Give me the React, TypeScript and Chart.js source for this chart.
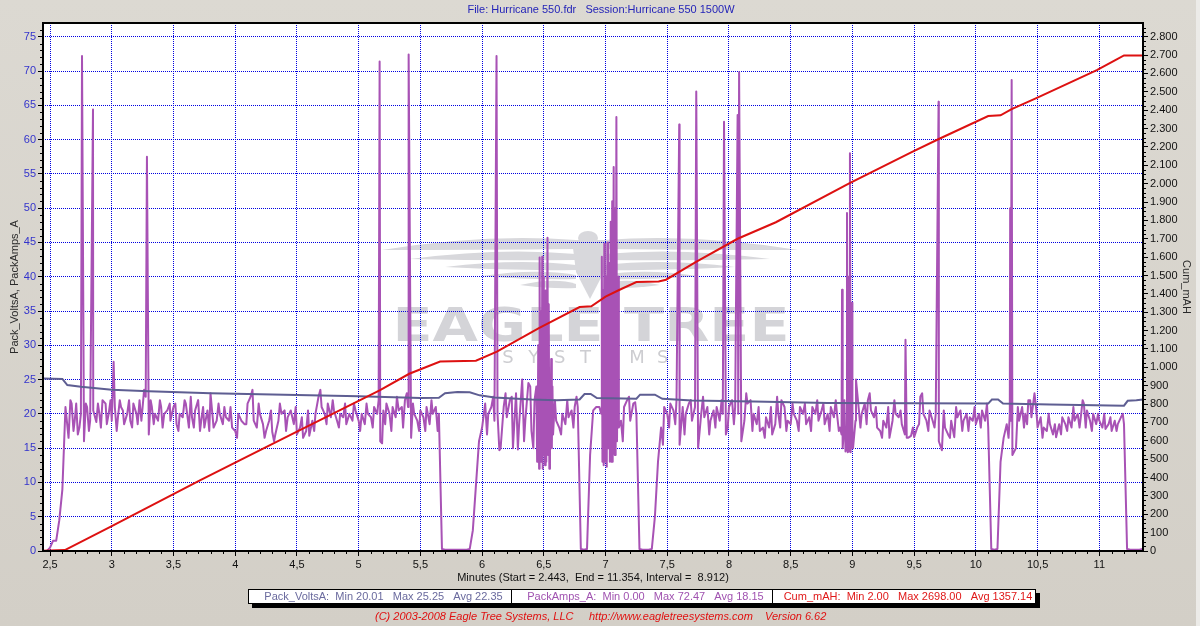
import { useEffect, useRef } from "react";
import { Chart, registerables } from "chart.js";

Chart.register(...registerables);

// ---------------- texts ----------------
const titleText = "File: Hurricane 550.fdr   Session:Hurricane 550 1500W";
const leftAxisTitle = "Pack_VoltsA, PackAmps_A";
const rightAxisTitle = "Cum_mAH";
const xAxisTitle = "Minutes (Start = 2.443,  End = 11.354, Interval =  8.912)";
const legendTexts = [
  "Pack_VoltsA:  Min 20.01   Max 25.25   Avg 22.35",
  "PackAmps_A:  Min 0.00   Max 72.47   Avg 18.15",
  "Cum_mAH:  Min 2.00   Max 2698.00   Avg 1357.14",
];
const footerTexts = [
  "(C) 2003-2008 Eagle Tree Systems, LLC",
  "http://www.eagletreesystems.com",
  "Version 6.62",
];

// ---------------- axis ranges ----------------
const xMin = 2.443;
const xMax = 11.354;
const leftMax = 77;
const rightMax = (77 * 2800) / 75;

// ---------------- data ----------------
// PackAmps_A sampled every 0.025 min starting at 2.45 min
const ampsStart = 2.45;
const ampsStep = 0.025;
const ampsBase = [
  0, 0, 0.5, 1.5, 1.5, 4.5, 9, 21, 16.5, 21.5, 19, 17, 20, 16, 21, 19, 20.5, 18.8, 20, 22,
  21.5, 20, 19, 21, 19.5, 21, 18.5, 20, 19, 21.5, 20, 22, 21, 22.5, 17, 21, 20, 19, 21, 20,
  20.5, 19, 21, 18.5, 20, 19.5, 21.5, 18, 19.5, 20.5, 22, 19, 18, 20.5, 23, 18, 19, 20, 18.5, 19.5,
  19, 18, 17.5, 20, 19, 18.5, 21.5, 22.5, 19, 18, 20, 18.5, 17.5, 19, 17.4, 17, 19, 20, 20.5, 19.5,
  20.5, 18.5, 17, 18, 16.5, 17.5, 16.8, 19, 20, 22.5, 21, 20, 21.5, 19.5, 20.5, 19, 20, 19.5, 18.5, 20,
  19, 20.5, 19, 20, 18.5, 20, 19.5, 21, 20, 16, 20.5, 21.5, 20, 21, 19.5, 20.5, 21, 22, 21, 16.5,
  20, 19, 20.5, 19.5, 21, 18.5, 20, 21, 20, 0.3, 0.2, 0.2, 0.2, 0.2, 0.2, 0.2, 0.2, 0.2, 0.3, 3,
  9.5, 16, 18, 21.5, 20, 21, 19, 20, 15, 21, 19.5, 22, 15, 23, 18.5, 25, 19, 24.5, 17.5, 22,
  14, 13, 14, 13, 14, 17, 19, 18, 20, 18.5, 19.5, 20.5, 21, 21, 0.3, 0.2, 0.3, 14, 20.5, 21,
  21, 13, 14, 15, 13, 14, 16, 19, 21, 22, 19, 21.5, 20, 0.3, 0.2, 0.2, 0.2, 0.3, 5, 13,
  18, 21, 20, 21.5, 20.5, 22, 15.5, 21, 20, 21.5, 19, 21, 15, 20, 19.5, 21, 19, 20.5, 21, 19,
  20, 17, 21, 22, 21, 20, 16, 19, 21.5, 22, 20, 18.5, 17.5, 18, 19.5, 18, 17, 18.5, 20, 22,
  21, 19, 18.5, 20, 19, 21, 20, 18.5, 19.5, 21, 20, 19, 20.5, 18.5, 20, 21, 19.5, 20, 18, 16,
  15, 14.5, 15, 19, 21, 20, 21.5, 22, 20.5, 19.5, 18, 17.5, 19, 18, 16.5, 19, 20, 19.5, 18.5, 17,
  16.5, 16.8, 16.6, 18, 22.5, 20, 19, 20.5, 19, 20, 16, 14.7, 18, 17, 19, 16.6, 19.5, 20.5, 19, 20,
  19.5, 19, 18.5, 20, 20.5, 19, 18, 0.3, 0.2, 0.3, 13, 16.5, 18.5, 20, 14, 15, 19, 21, 20, 22,
  19.5, 23, 18, 19.5, 18, 17.5, 18.5, 17, 16.6, 18.5, 19.5, 18.5, 19.5, 18, 19, 20, 19.5, 21.5, 20.5, 19,
  20, 18.5, 19, 18, 17.8, 18.5, 17.5, 19, 18.5, 19.5, 18.5, 0.3, 0.2, 0.2, 0.2, 0.2, 0.3,
];

// PackAmps_A short spikes, bursts and fast jitter between the regular samples [minutes, amps]
const ampsBursts: [number, number][] = [
  [2.443, 0],
  [2.665, 22], [2.69, 17.5], [2.712, 21.5], [2.738, 18], [2.755, 47], [2.759, 72.2],
  [2.79, 21.5], [2.815, 17.5], [2.848, 64.4], [2.888, 21.5], [2.912, 18],
  [2.96, 18.5], [2.99, 22], [3.015, 27.6], [3.04, 17.5], [3.065, 22], [3.09, 20.5],
  [3.14, 22], [3.165, 18], [3.21, 18.5], [3.24, 19], [3.262, 23.5], [3.285, 57.5],
  [3.315, 22], [3.34, 18.5], [3.39, 22], [3.412, 18],
  [3.47, 21.5], [3.515, 21.5], [3.54, 17.5], [3.59, 22], [3.64, 22.5], [3.665, 18],
  [3.715, 17.5], [3.74, 21], [3.79, 17.5], [3.865, 21.5], [3.912, 21],
  [3.962, 21], [4.015, 16.5], [4.09, 18.5], [4.14, 23.5], [4.19, 21.5], [4.238, 16.5],
  [4.29, 20.5], [4.315, 16], [4.362, 21.5], [4.412, 17.5],
  [4.49, 21], [4.54, 19.5], [4.59, 20.5], [4.64, 17.5], [4.69, 23.5], [4.74, 18.5],
  [4.79, 22], [4.84, 18], [4.89, 21.5],
  [4.962, 21.5], [5.012, 17.5], [5.064, 21.5], [5.114, 18], [5.162, 22], [5.17, 71.4],
  [5.19, 15.7], [5.215, 18.5], [5.265, 17.5], [5.31, 22.5], [5.36, 18], [5.39, 23],
  [5.405, 72.4], [5.44, 21.5], [5.49, 17.5], [5.54, 17.5], [5.59, 22], [5.64, 17.5],
  [6.04, 17], [6.09, 22.5], [6.117, 72.2], [6.14, 14.7], [6.19, 23], [6.24, 22.5],
  [6.29, 14.8], [6.34, 16], [6.39, 24], [6.415, 15],
  [6.44, 24], [6.446, 13], [6.455, 30], [6.462, 12], [6.466, 42.8], [6.47, 14], [6.48, 35],
  [6.484, 13], [6.487, 42.9], [6.491, 12], [6.495, 40], [6.505, 33], [6.51, 12.5], [6.515, 38],
  [6.52, 13], [6.53, 45.7], [6.535, 14], [6.54, 36], [6.545, 12], [6.56, 28], [6.565, 15], [6.57, 24],
  [6.59, 22], [6.64, 17], [6.69, 22], [6.74, 18], [6.765, 22.5],
  [6.965, 20], [6.97, 42.9], [6.98, 38], [6.985, 12.5], [6.99, 44.8], [6.995, 13], [7.005, 40],
  [7.01, 12.3], [7.015, 45], [7.02, 15], [7.03, 42], [7.035, 13], [7.042, 48], [7.046, 14],
  [7.054, 51], [7.058, 13], [7.066, 56], [7.07, 15], [7.078, 50], [7.082, 14], [7.088, 63.3],
  [7.093, 16], [7.104, 40], [7.108, 18],
  [7.14, 16], [7.19, 22.5], [7.24, 21.7],
  [7.465, 15.5], [7.515, 18], [7.565, 18.5], [7.597, 62.2], [7.64, 17], [7.69, 22],
  [7.735, 67], [7.79, 22.5], [7.84, 17], [7.89, 18], [7.94, 22],
  [7.96, 62.6], [7.99, 18], [8.04, 18.5], [8.07, 63.6], [8.082, 69.8], [8.14, 23],
  [8.19, 17.5], [8.24, 21], [8.29, 16.5], [8.34, 21], [8.39, 22.5], [8.415, 18],
  [8.465, 17.5], [8.515, 21.5], [8.565, 17.5], [8.615, 21.5], [8.665, 17.5], [8.715, 22],
  [8.765, 21.5], [8.815, 17.5], [8.865, 22], [8.89, 17.5],
  [8.912, 17], [8.916, 38.1], [8.921, 15], [8.935, 22], [8.944, 14.5], [8.956, 49.3], [8.962, 14.4],
  [8.97, 40], [8.98, 58], [8.986, 14.4], [8.997, 36.2], [9.005, 15], [9.029, 25],
  [9.065, 18], [9.115, 18.5], [9.14, 23], [9.19, 21], [9.24, 16.5], [9.29, 21], [9.34, 22],
  [9.39, 20.5], [9.43, 30.8], [9.44, 16.5], [9.49, 18], [9.54, 18.5], [9.565, 23],
  [9.615, 17.5], [9.665, 18], [9.698, 65.5], [9.74, 20.5], [9.79, 16.5], [9.84, 21],
  [9.89, 17.5], [9.94, 17.5], [9.99, 21], [10.04, 18], [10.09, 21.5],
  [10.265, 16.5], [10.278, 50], [10.283, 19], [10.29, 68.7], [10.296, 14],
  [10.34, 21], [10.39, 18], [10.415, 18.5], [10.44, 22], [10.49, 20.5], [10.54, 16.5],
  [10.59, 20], [10.64, 18.5], [10.69, 17], [10.74, 17.5], [10.79, 21], [10.84, 18],
  [10.865, 22], [10.89, 18], [10.94, 17.5], [10.99, 20], [11.04, 20], [11.09, 19.5],
  [11.14, 17.5], [11.19, 20],
];

// Pack_VoltsA [minutes, volts]
const packVolts: [number, number][] = [
  [2.443, 25.15], [2.6, 25.1], [2.64, 24.2], [2.75, 23.95], [3.0, 23.5], [3.3, 23.3],
  [3.8, 23.0], [4.2, 22.85], [4.6, 22.7], [5.0, 22.55], [5.5, 22.3], [5.65, 22.35],
  [5.7, 23.0], [5.8, 23.2], [5.9, 23.15], [5.98, 22.7], [6.1, 22.4], [6.4, 22.1],
  [6.6, 22.0], [6.79, 22.1], [6.83, 22.9], [6.88, 22.9], [6.93, 22.3], [7.25, 22.2],
  [7.28, 22.8], [7.4, 22.8], [7.46, 22.2], [7.7, 21.95], [8.2, 21.8], [8.8, 21.6],
  [9.5, 21.55], [10.1, 21.5], [10.13, 22.1], [10.18, 22.1], [10.22, 21.5], [10.6, 21.35],
  [11.2, 21.2], [11.23, 21.9], [11.3, 22.0], [11.354, 22.1],
];

// Cum_mAH [minutes, mAh]
const cumMah: [number, number][] = [
  [2.443, 2], [2.62, 5], [3.0, 135], [3.714, 384], [4.04, 495], [4.5, 650], [5.17, 875],
  [5.41, 965], [5.66, 1032], [5.95, 1036], [6.12, 1085], [6.46, 1214], [6.79, 1328],
  [6.885, 1332], [7.0, 1385], [7.11, 1421], [7.25, 1464], [7.43, 1467], [7.49, 1477],
  [7.73, 1573], [8.07, 1700], [8.38, 1790], [8.97, 2000], [9.48, 2172], [9.7, 2243],
  [10.1, 2368], [10.2, 2372], [10.29, 2406], [10.49, 2466], [10.98, 2618], [11.13, 2673],
  [11.2, 2698], [11.354, 2698],
];

// ---------------- styling ----------------
const FONT = "'Liberation Sans', Arial, sans-serif";
const voltsColor = "#5E5E92";
const ampsColor = "#A852B5";
const mahColor = "#DD1111";
const gridColor = "#0000E0";

function fmtComma(v: number) {
  return String(v).replace(".", ",");
}
function fmtMah(v: number) {
  if (v >= 1000) {
    const th = Math.floor(v / 1000);
    const rest = Math.round(v - th * 1000);
    return `${th}.${String(rest).padStart(3, "0")}`;
  }
  return String(Math.round(v));
}

function drawWatermark(ctx: CanvasRenderingContext2D) {
  ctx.save();
  ctx.fillStyle = "#D8D8DC";
  const cx = 590;
  const bands = [
    { y0: 240, dx: 208, ty: 250, th: 9 },
    { y0: 254, dx: 180, ty: 259, th: 6 },
    { y0: 265, dx: 145, ty: 267, th: 5 },
    { y0: 275, dx: 108, ty: 276, th: 4 },
    { y0: 284, dx: 70, ty: 285, th: 4 },
  ];
  for (const s of [-1, 1]) {
    for (const b of bands) {
      ctx.beginPath();
      ctx.moveTo(cx + s * 14, b.y0);
      ctx.quadraticCurveTo(cx + s * b.dx * 0.5, b.y0 - 7, cx + s * b.dx, b.ty);
      ctx.quadraticCurveTo(cx + s * b.dx * 0.55, b.y0 + b.th + 1, cx + s * 14, b.y0 + b.th);
      ctx.closePath();
      ctx.fill();
    }
  }
  ctx.beginPath();
  ctx.moveTo(cx - 18, 240);
  ctx.lineTo(cx + 18, 240);
  ctx.lineTo(cx + 14, 272);
  ctx.lineTo(cx, 299);
  ctx.lineTo(cx - 14, 272);
  ctx.closePath();
  ctx.fill();
  ctx.beginPath();
  ctx.ellipse(cx - 2, 238, 10, 7, 0, 0, Math.PI * 2);
  ctx.fill();

  // "EAGLE TREE"
  ctx.fillStyle = "#D4D4D8";
  ctx.font = `bold 46px 'DejaVu Sans', sans-serif`;
  ctx.textBaseline = "alphabetic";
  ctx.textAlign = "center";
  const word = "EAGLE TREE";
  const w = ctx.measureText(word).width;
  ctx.save();
  ctx.translate(591, 341);
  ctx.scale(397 / w, 1);
  ctx.fillText(word, 0, 0);
  ctx.restore();

  // "SYSTEMS"
  ctx.fillStyle = "#CDCDD1";
  ctx.font = `18px 'DejaVu Sans', sans-serif`;
  const letters = "SYSTEMS".split("");
  letters.forEach((ch, i) => ctx.fillText(ch, 508 + i * 25.8, 363));
  ctx.restore();
}

const backgroundPlugin = {
  id: "bgPlugin",
  beforeDraw(chart: any) {
    const { ctx, chartArea: a, width, height } = chart;
    ctx.save();
    const g = ctx.createLinearGradient(0, 0, 0, height);
    g.addColorStop(0, "#DCD9D2");
    g.addColorStop(1, "#D3CFC7");
    ctx.fillStyle = g;
    ctx.fillRect(0, 0, width, height);
    ctx.fillStyle = "#ECEBE8";
    ctx.fillRect(width - 4, 0, 4, height);
    ctx.fillStyle = "#FFFFFF";
    ctx.fillRect(a.left, a.top, a.right - a.left, a.bottom - a.top);
    drawWatermark(ctx);
    ctx.restore();
  },
};

const framePlugin = {
  id: "framePlugin",
  afterDatasetsDraw(chart: any) {
    const { ctx, chartArea: a } = chart;
    ctx.save();
    ctx.strokeStyle = "#000";
    ctx.lineWidth = 2;
    ctx.strokeRect(a.left, a.top, a.right - a.left, a.bottom - a.top);
    ctx.restore();
  },
  afterDraw(chart: any) {
    const { ctx, chartArea: a } = chart;
    const xs = chart.scales.x;
    const ys = chart.scales.y;
    const y1 = chart.scales.y1;
    ctx.save();
    // minor tick marks
    ctx.strokeStyle = "#000";
    ctx.lineWidth = 1;
    ctx.beginPath();
    for (let k = 0; k <= 88; k++) {
      if (k % 5 === 0) continue;
      const px = Math.round(xs.getPixelForValue(2.5 + k * 0.1)) + 0.5;
      ctx.moveTo(px, a.bottom);
      ctx.lineTo(px, a.bottom + 3);
    }
    for (let v = 1; v < leftMax; v++) {
      if (v % 5 === 0) continue;
      const py = Math.round(ys.getPixelForValue(v)) + 0.5;
      ctx.moveTo(a.left - 3, py);
      ctx.lineTo(a.left, py);
    }
    for (let v = 25; v < rightMax; v += 25) {
      if (v % 100 === 0) continue;
      const py = Math.round(y1.getPixelForValue(v)) + 0.5;
      ctx.moveTo(a.right, py);
      ctx.lineTo(a.right + 3, py);
    }
    ctx.stroke();

    ctx.textBaseline = "middle";
    ctx.textAlign = "center";
    // title
    ctx.font = `11px ${FONT}`;
    ctx.fillStyle = "#2424B8";
    ctx.fillText(titleText, 601, 10);

    // axis titles
    ctx.fillStyle = "#2A2A2A";
    ctx.save();
    ctx.translate(15, 287);
    ctx.rotate(-Math.PI / 2);
    ctx.fillText(leftAxisTitle, 0, 0);
    ctx.restore();
    ctx.save();
    ctx.translate(1186, 287);
    ctx.rotate(Math.PI / 2);
    ctx.fillText(rightAxisTitle, 0, 0);
    ctx.restore();

    ctx.fillStyle = "#111";
    ctx.fillText(xAxisTitle, 593, 578);

    // legend box
    const L = 248, T = 589, R = 1036, B = 604;
    ctx.fillStyle = "#000";
    ctx.fillRect(L + 4, T + 4, R - L, B - T);
    ctx.fillStyle = "#FFF";
    ctx.fillRect(L, T, R - L, B - T);
    ctx.strokeStyle = "#000";
    ctx.lineWidth = 1;
    ctx.strokeRect(L + 0.5, T + 0.5, R - L - 1, B - T - 1);
    const divs = [L, 511, 772, R];
    ctx.beginPath();
    ctx.moveTo(511.5, T);
    ctx.lineTo(511.5, B);
    ctx.moveTo(772.5, T);
    ctx.lineTo(772.5, B);
    ctx.stroke();
    const legendColors = ["#6A6A9E", "#A052B0", "#E01818"];
    ctx.font = `11px ${FONT}`;
    legendTexts.forEach((t, i) => {
      ctx.fillStyle = legendColors[i];
      ctx.fillText(t, (divs[i] + divs[i + 1]) / 2 + 4, 597);
    });

    // footer
    ctx.font = `italic 11px ${FONT}`;
    ctx.fillStyle = "#E01010";
    ctx.textAlign = "left";
    const fx = [375, 589, 765];
    footerTexts.forEach((t, i) => ctx.fillText(t, fx[i], 617));
    ctx.restore();
  },
};

function buildAmps() {
  const pts = ampsBase.map((v, i) => ({ x: +(ampsStart + i * ampsStep).toFixed(3), y: v }));
  ampsBursts.forEach(([x, y]) => pts.push({ x, y }));
  pts.sort((p, q) => p.x - q.x);
  return pts;
}

export default function App() {
  const ref = useRef<HTMLCanvasElement>(null);

  useEffect(() => {
    if (!ref.current) return;
    Chart.defaults.font.family = FONT;
    Chart.defaults.font.size = 11;

    const gridBase = {
      color: gridColor,
      lineWidth: 1,
      tickLength: 5,
      tickColor: "#000",
      tickWidth: 1,
      tickBorderDash: [],
      drawTicks: true,
    };
    const borderBase = { display: false, dash: [1, 1], dashOffset: 0 };

    const chart = new Chart(ref.current, {
      type: "line",
      data: {
        datasets: [
          {
            label: "Cum_mAH",
            data: cumMah.map(([x, y]) => ({ x, y })),
            borderColor: mahColor,
            borderWidth: 2,
            pointRadius: 0,
            yAxisID: "y1",
            order: 0,
          },
          {
            label: "Pack_VoltsA",
            data: packVolts.map(([x, y]) => ({ x, y })),
            borderColor: voltsColor,
            borderWidth: 2,
            pointRadius: 0,
            yAxisID: "y",
            order: 1,
          },
          {
            label: "PackAmps_A",
            data: buildAmps(),
            borderColor: ampsColor,
            borderWidth: 2,
            pointRadius: 0,
            borderJoinStyle: "round",
            yAxisID: "y",
            order: 2,
          },
        ],
      },
      options: {
        animation: false,
        responsive: false,
        maintainAspectRatio: false,
        layout: { padding: { top: 23, left: 0, right: 0, bottom: 0 } },
        plugins: {
          legend: { display: false },
          title: { display: false },
          tooltip: { enabled: false },
        },
        elements: { line: { tension: 0 } },
        scales: {
          x: {
            type: "linear",
            min: xMin,
            max: xMax,
            afterFit(s: any) {
              s.height = 75;
            },
            ticks: {
              stepSize: 0.5,
              maxTicksLimit: 1000,
              autoSkip: false,
              includeBounds: false,
              maxRotation: 0,
              padding: 2,
              color: "#111",
              font: { size: 11 },
              callback: (v: any) => fmtComma(Number(v)),
            },
            grid: gridBase,
            border: borderBase,
          },
          y: {
            type: "linear",
            position: "left",
            min: 0,
            max: leftMax,
            afterFit(s: any) {
              s.width = 43;
            },
            ticks: {
              stepSize: 5,
              maxTicksLimit: 1000,
              includeBounds: false,
              padding: 2,
              color: "#3333CC",
              font: { size: 11 },
            },
            grid: gridBase,
            border: borderBase,
          },
          y1: {
            type: "linear",
            position: "right",
            min: 0,
            max: rightMax,
            afterFit(s: any) {
              s.width = 57;
            },
            ticks: {
              stepSize: 100,
              maxTicksLimit: 1000,
              includeBounds: false,
              padding: 2,
              color: "#111",
              font: { size: 11 },
              callback: (v: any) => fmtMah(Number(v)),
            },
            grid: { ...gridBase, drawOnChartArea: false },
            border: borderBase,
          },
        },
      } as any,
      plugins: [backgroundPlugin, framePlugin],
    });
    return () => chart.destroy();
  }, []);

  return (
    <div style={{ position: "absolute", left: 0, top: 0, width: 1200, height: 626 }}>
      <canvas ref={ref} width={1200} height={626} style={{ display: "block", width: 1200, height: 626 }} />
    </div>
  );
}
